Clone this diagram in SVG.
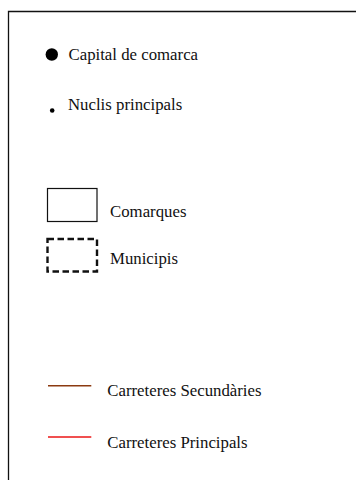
<svg xmlns="http://www.w3.org/2000/svg" width="356" height="480" viewBox="0 0 356 480">
<style>
text{font-family:"Liberation Serif","Times New Roman",serif;font-size:16.8px;fill:#111}
.frame{fill:none;stroke:#111;stroke-width:1.3}
</style>
<rect width="356" height="480" fill="#fff"/>
<g id="frame"><path class="frame" d="M356 11.5H8.5V480"/></g>
<g id="capital"><circle cx="51.8" cy="54.5" r="6.2" fill="#000"/><text x="68.5" y="59.5">Capital de comarca</text></g>
<g id="nuclis"><circle cx="52.2" cy="110.5" r="2.3" fill="#000"/><text x="68" y="109.5">Nuclis principals</text></g>
<g id="comarques"><rect x="47.5" y="188.5" width="49.5" height="33" fill="none" stroke="#111" stroke-width="1.2"/><text x="110" y="216.5">Comarques</text></g>
<g id="municipis"><rect x="47.5" y="239" width="49.5" height="32.5" fill="none" stroke="#111" stroke-width="2.4" stroke-dasharray="6.5,3.5"/><text x="110" y="263.5">Municipis</text></g>
<g id="connectors">
<line x1="48" y1="385.8" x2="91.3" y2="385.8" stroke="#8b3a10" stroke-width="1.6"/>
<line x1="48" y1="437" x2="91.3" y2="437" stroke="#f05050" stroke-width="1.8"/>
</g>
<g id="secundaries"><text x="107.3" y="396">Carreteres Secundàries</text></g>
<g id="principals"><text x="107.3" y="447.5">Carreteres Principals</text></g>
</svg>
